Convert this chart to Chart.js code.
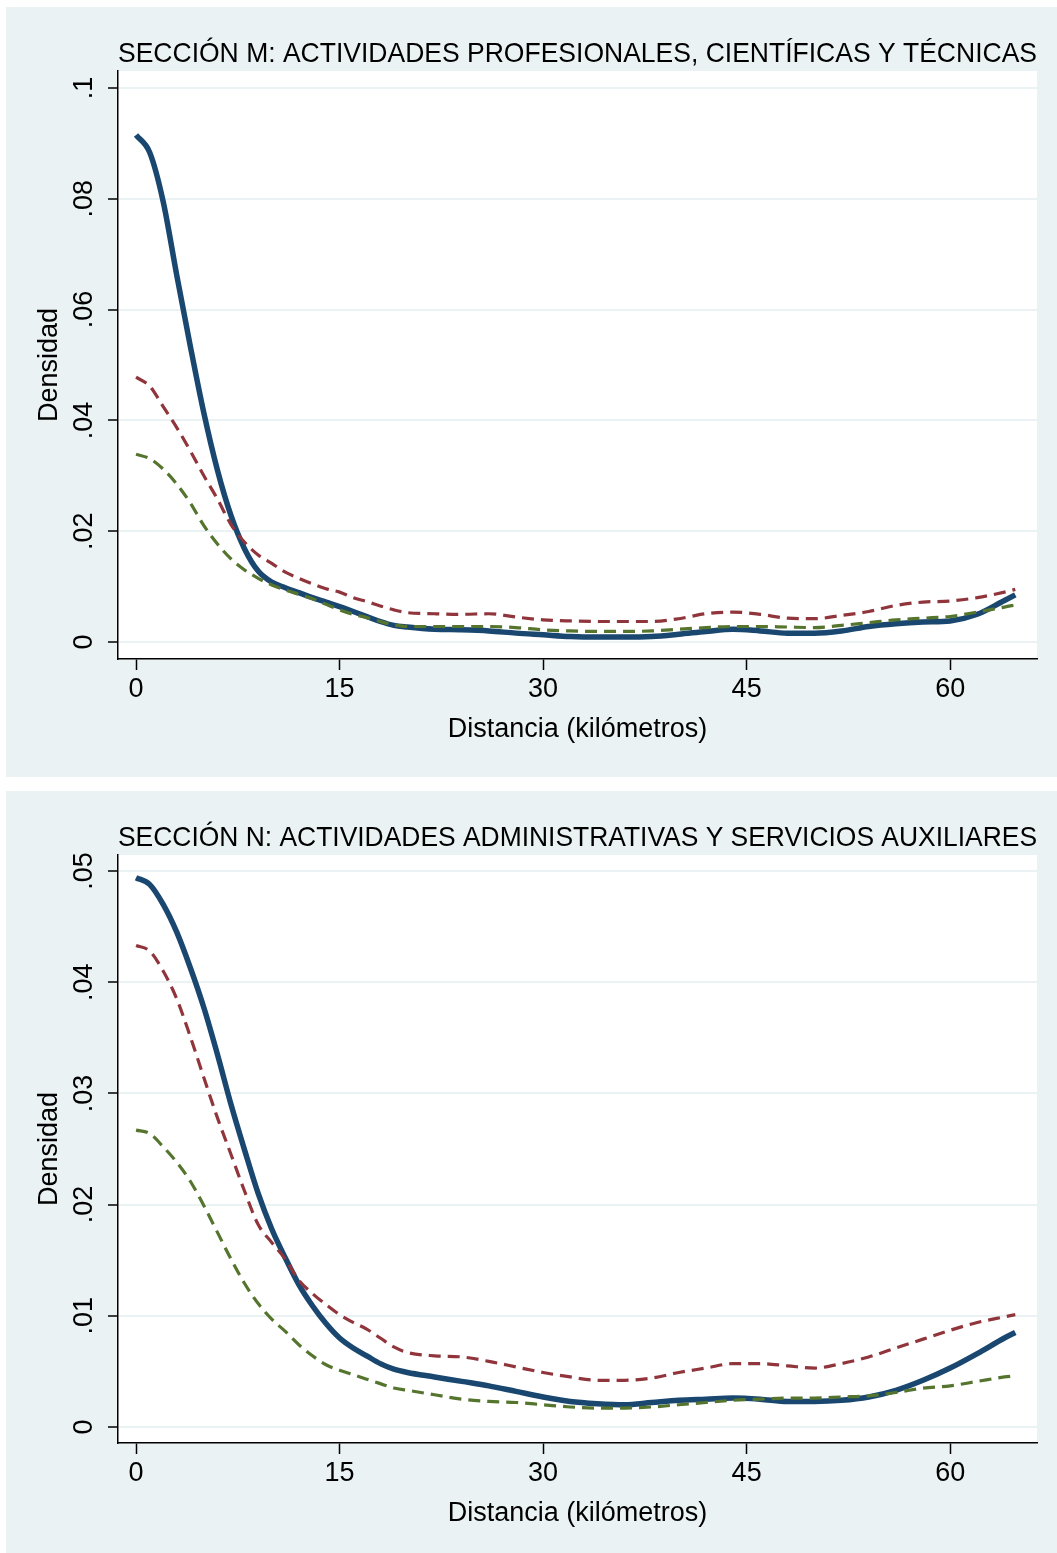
<!DOCTYPE html>
<html>
<head>
<meta charset="utf-8">
<script src="https://cdn.jsdelivr.net/npm/chart.js@4.4.1/dist/chart.umd.min.js"></script>
<style>
    body { margin: 0; background: #ffffff; width: 1057px; height: 1553px; position: relative; overflow: hidden; }
    .panel { position: absolute; left: 6px; width: 1051px; background: #EAF2F3; }
    #panelM { top: 7px; height: 770px; }
    #panelN { top: 791px; height: 762px; }
    canvas { display: block; }
</style>
</head>
<body>
<div class="panel" id="panelM"><canvas id="graphM" width="1051" height="770"></canvas></div>
<div class="panel" id="panelN"><canvas id="graphN" width="1051" height="762"></canvas></div>
<script>
var distancia = [0, 1, 2, 3, 4, 5, 6, 7, 8, 9, 10, 11, 12, 13, 14, 15, 16, 17, 18, 19, 20,
    22, 24, 26, 28, 30, 32, 34, 36, 38, 40, 42, 44, 46, 48, 50, 52, 54, 56, 58, 60, 62, 64, 64.8];

// Sección M
var seccionM_azul = [0.0915, 0.0884, 0.0795, 0.0662, 0.0534, 0.0413, 0.0310, 0.0228, 0.0168, 0.0128, 0.0108,
    0.0098, 0.0089, 0.0080, 0.0072, 0.0064, 0.0055, 0.0046, 0.0037, 0.0030, 0.0027,
    0.0023, 0.0022, 0.0020, 0.0016, 0.0013, 0.0010, 0.0009, 0.0009, 0.0010, 0.0014,
    0.0019, 0.0023, 0.0020, 0.0016, 0.0016, 0.0020, 0.0028, 0.0033, 0.0036, 0.0038, 0.0050, 0.0075, 0.0085];
var seccionM_roja = [0.0478, 0.0462, 0.0425, 0.0387, 0.0345, 0.0300, 0.0258, 0.0212, 0.0180, 0.0157, 0.0142,
    0.0126, 0.0115, 0.0105, 0.0096, 0.0090, 0.0080, 0.0073, 0.0065, 0.0058, 0.0053,
    0.0051, 0.0050, 0.0051, 0.0045, 0.0040, 0.0038, 0.0037, 0.0037, 0.0037, 0.0042,
    0.0051, 0.0054, 0.0050, 0.0043, 0.0042, 0.0048, 0.0055, 0.0066, 0.0072, 0.0074, 0.0080, 0.0090, 0.0095];
var seccionM_verde = [0.0339, 0.0331, 0.0312, 0.0285, 0.0251, 0.0210, 0.0177, 0.0150, 0.0130, 0.0115, 0.0103,
    0.0094, 0.0086, 0.0078, 0.0068, 0.0058, 0.0050, 0.0044, 0.0037, 0.0031, 0.0028,
    0.0028, 0.0028, 0.0028, 0.0026, 0.0022, 0.0020, 0.0019, 0.0019, 0.0020, 0.0023,
    0.0026, 0.0028, 0.0028, 0.0027, 0.0026, 0.0030, 0.0035, 0.0040, 0.0043, 0.0046, 0.0054, 0.0063, 0.0067];

// Sección N
var seccionN_azul = [0.0494, 0.0488, 0.0470, 0.0445, 0.0413, 0.0377, 0.0335, 0.0290, 0.0249, 0.0210, 0.0178,
    0.0152, 0.0128, 0.0109, 0.0093, 0.0080, 0.0071, 0.0064, 0.0057, 0.0052, 0.0049,
    0.0045, 0.0041, 0.0037, 0.0032, 0.0027, 0.0023, 0.0021, 0.0020, 0.0022, 0.0024,
    0.0025, 0.0026, 0.0025, 0.0023, 0.0023, 0.0024, 0.0027, 0.0033, 0.0042, 0.0053, 0.0066, 0.0080, 0.0085];
var seccionN_roja = [0.0433, 0.0428, 0.0410, 0.0385, 0.0351, 0.0314, 0.0278, 0.0245, 0.0212, 0.0182, 0.0166,
    0.0151, 0.0132, 0.0120, 0.0110, 0.0101, 0.0094, 0.0088, 0.0080, 0.0072, 0.0067,
    0.0064, 0.0063, 0.0059, 0.0054, 0.0049, 0.0045, 0.0042, 0.0042, 0.0044, 0.0049,
    0.0053, 0.0057, 0.0057, 0.0055, 0.0053, 0.0057, 0.0063, 0.0071, 0.0079, 0.0087, 0.0094, 0.0099, 0.0101];
var seccionN_verde = [0.0267, 0.0264, 0.0252, 0.0238, 0.0221, 0.0199, 0.0175, 0.0151, 0.0129, 0.0111, 0.0097,
    0.0086, 0.0074, 0.0064, 0.0056, 0.0051, 0.0047, 0.0043, 0.0039, 0.0035, 0.0033,
    0.0029, 0.0025, 0.0023, 0.0022, 0.0020, 0.0018, 0.0017, 0.0017, 0.0018, 0.0020,
    0.0022, 0.0024, 0.0025, 0.0026, 0.0026, 0.0027, 0.0028, 0.0031, 0.0035, 0.0037, 0.0041, 0.0045, 0.0046];

var xTicks = [0, 15, 30, 45, 60];
var xTickLabels = ["0", "15", "30", "45", "60"];
var yTicksM = [0, 0.02, 0.04, 0.06, 0.08, 0.1];
var yTickLabelsM = ["0", ".02", ".04", ".06", ".08", ".1"];
var yTicksN = [0, 0.01, 0.02, 0.03, 0.04, 0.05];
var yTickLabelsN = ["0", ".01", ".02", ".03", ".04", ".05"];

var fontFamily = "'Liberation Sans', Arial, Helvetica, sans-serif";
var fontSize = 27;

var plotBackground = {
    id: "plotBackground",
    beforeDraw: function (chart) {
        var a = chart.chartArea;
        chart.ctx.save();
        chart.ctx.fillStyle = "#ffffff";
        chart.ctx.fillRect(a.left, a.top, a.right - a.left, a.bottom - a.top);
        chart.ctx.restore();
    }
};

// y tick labels are vertical in the original, Chart.js can't rotate them on a y axis
var verticalYLabels = {
    id: "verticalYLabels",
    afterDraw: function (chart, args, opts) {
        var scale = chart.scales.y;
        var ctx = chart.ctx;
        ctx.save();
        ctx.font = fontSize + "px " + fontFamily;
        ctx.fillStyle = "#000000";
        ctx.textAlign = "center";
        ctx.textBaseline = "middle";
        opts.values.forEach(function (v, i) {
            ctx.save();
            ctx.translate(opts.x, scale.getPixelForValue(v));
            ctx.rotate(-Math.PI / 2);
            ctx.fillText(opts.labels[i], 0, 0);
            ctx.restore();
        });
        ctx.restore();
    }
};

function to_points(values) {
    return distancia.map(function (d, i) { return { x: d, y: values[i] }; });
}

function create_density_graph(canvasId, title, azul, roja, verde, yMin, yMax, yTicks, yTickLabels, xAxisHeight, xTitlePad) {
    var config = {
        type: "line",
        data: {
            datasets: [
                { data: to_points(azul), borderColor: "#1A476F", borderWidth: 5.5, order: 3 },
                { data: to_points(roja), borderColor: "#90353B", borderWidth: 3.2, borderDash: [12, 7], order: 2 },
                { data: to_points(verde), borderColor: "#55752F", borderWidth: 3.2, borderDash: [12, 7], order: 1 },
            ],
        },
        options: {
            responsive: false,
            animation: false,
            elements: {
                point: { radius: 0 },
                line: { cubicInterpolationMode: "monotone", fill: false },
            },
            layout: { padding: { top: 0, left: 0, right: 20, bottom: 0 } },
            plugins: {
                legend: { display: false },
                tooltip: { enabled: false },
                title: {
                    display: true,
                    text: title,
                    fullSize: false,
                    color: "#000000",
                    font: { size: 27.4, weight: "normal", family: fontFamily, lineHeight: 1.2 },
                    padding: { top: 30.6, bottom: 0.5 },
                },
                verticalYLabels: { values: yTicks, labels: yTickLabels, x: 79 },
            },
            scales: {
                x: {
                    type: "linear",
                    min: -1.33,
                    max: 66.4,
                    afterFit: function (s) { s.height = xAxisHeight; },
                    afterBuildTicks: function (s) { s.ticks = xTicks.map(function (v) { return { value: v }; }); },
                    ticks: {
                        color: "#000000",
                        font: { size: fontSize, family: fontFamily },
                        padding: 3.8,
                        maxRotation: 0,
                        callback: function (v, i) { return xTickLabels[i]; },
                    },
                    grid: { drawOnChartArea: false, tickLength: 11, tickColor: "#000000", tickWidth: 1.5 },
                    border: { color: "#000000", width: 1.5 },
                    title: {
                        display: true,
                        text: "Distancia (kilómetros)",
                        color: "#000000",
                        font: { size: fontSize, family: fontFamily },
                        padding: { top: 0, bottom: xTitlePad },
                    },
                },
                y: {
                    min: yMin,
                    max: yMax,
                    afterFit: function (s) { s.width = 112; },
                    afterBuildTicks: function (s) { s.ticks = yTicks.map(function (v) { return { value: v }; }); },
                    ticks: { display: false },
                    grid: { color: "#EAF2F3", lineWidth: 2, tickLength: 10, tickColor: "#000000", tickWidth: 1.5 },
                    border: { color: "#000000", width: 1.5 },
                    title: {
                        display: true,
                        text: "Densidad",
                        color: "#000000",
                        font: { size: fontSize, family: fontFamily },
                        padding: { top: 27.8, bottom: 0 },
                    },
                },
            },
        },
        plugins: [plotBackground, verticalYLabels],
    };
    return new Chart(canvasId, config);
}

var graphM = create_density_graph("graphM", "SECCIÓN M: ACTIVIDADES PROFESIONALES, CIENTÍFICAS Y TÉCNICAS",
    seccionM_azul, seccionM_roja, seccionM_verde, -0.00307, 0.10307, yTicksM, yTickLabelsM, 118, 30.8);
var graphN = create_density_graph("graphN", "SECCIÓN N: ACTIVIDADES ADMINISTRATIVAS Y SERVICIOS AUXILIARES",
    seccionN_azul, seccionN_roja, seccionN_verde, -0.00144, 0.05144, yTicksN, yTickLabelsN, 110, 22.8);
</script>
</body>
</html>
